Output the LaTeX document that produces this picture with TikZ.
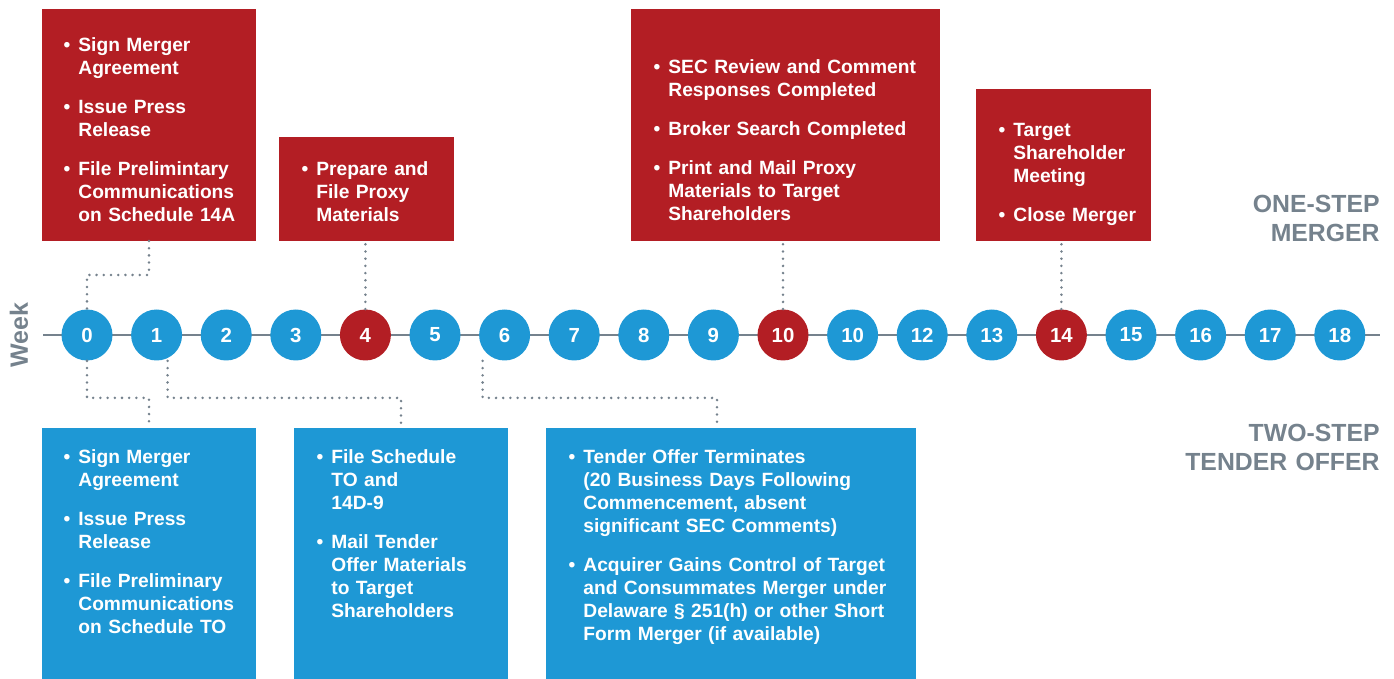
\documentclass[tikz,border=0pt]{standalone}
\usepackage{fontspec}
\setmainfont{Liberation Sans}
\usetikzlibrary{calc}
\definecolor{mred}{HTML}{B31E24}
\definecolor{mblue}{HTML}{1E98D5}
\definecolor{mgray}{HTML}{75828D}
\newcommand{\itm}{\leavevmode\llap{\textbullet\hspace{4pt}}}

\begin{document}
\begin{tikzpicture}[x=0.5pt,y=-0.5pt,
   wk/.style={circle,fill=mblue,minimum size=25.5pt,inner sep=0pt,text=white,
     font=\fontsize{10.2}{12}\selectfont\bfseries},
   mbox/.style={anchor=north west,inner sep=0pt,outer sep=0pt},
   txt/.style={anchor=base west,inner sep=0pt,text width=170pt,align=left,text=white,
     font=\fontsize{9.6}{11.5}\selectfont\bfseries},
   side/.style={anchor=base east,inner sep=0pt,text width=200pt,align=right,text=mgray,
     font=\fontsize{12.4}{14.5}\selectfont\bfseries},
   dots/.style={mgray,line width=1.4pt,line cap=round,dash pattern=on 0pt off 3.6pt}]
\useasboundingbox (0,0) rectangle (1394,679);

\coordinate (tl0) at (43,335);
\coordinate (tl1) at (1380,335);
\draw[mgray,line width=1.4pt] (tl0) -- (tl1);
\node[rotate=90,text=mgray,font=\fontsize{12.5}{14}\selectfont\bfseries] (week) at (19,335) {Week};

\foreach \l [count=\i from 0] in {0,1,2,3,4,5,6,7,8,9,10,10,12,13,14,15,16,17,18} {
  \ifnum\i=4 \def\col{mred}\else\ifnum\i=10 \def\col{mred}\else
    \ifnum\i=14 \def\col{mred}\else\def\col{mblue}\fi\fi\fi
  \node[wk,fill=\col] (c\i) at ({87+69.6*\i},335) {\l};
}

\node[mbox,fill=mred,minimum width=107pt,minimum height=116pt] (mA) at (42,9) {};
\node[mbox,fill=mred,minimum width=87.5pt,minimum height=52pt] (mB) at (279,137) {};
\node[mbox,fill=mred,minimum width=154.5pt,minimum height=116pt] (mC) at (631,9) {};
\node[mbox,fill=mred,minimum width=87.5pt,minimum height=76pt] (mD) at (976,89) {};
\node[mbox,fill=mblue,minimum width=107pt,minimum height=125.5pt] (mE) at (42,428) {};
\node[mbox,fill=mblue,minimum width=107pt,minimum height=125.5pt] (mF) at (294,428) {};
\node[mbox,fill=mblue,minimum width=185pt,minimum height=125.5pt] (mG) at (546,428) {};

\node[txt] (tA) at (78,52) {\itm Sign Merger\\Agreement\\[8pt]\itm Issue Press\\Release\\[8pt]%
  \itm File Prelimintary\\Communications\\on Schedule 14A};
\node[txt] (tB) at (316,176) {\itm Prepare and\\File Proxy\\Materials};
\node[txt] (tC) at (668,74) {\itm SEC Review and Comment\\Responses Completed\\[8pt]%
  \itm Broker Search Completed\\[8pt]\itm Print and Mail Proxy\\Materials to Target\\Shareholders};
\node[txt] (tD) at (1013,137) {\itm Target\\Shareholder\\Meeting\\[8pt]\itm Close Merger};
\node[txt] (tE) at (78,464) {\itm Sign Merger\\Agreement\\[8pt]\itm Issue Press\\Release\\[8pt]%
  \itm File Preliminary\\Communications\\on Schedule TO};
\node[txt] (tF) at (331,464) {\itm File Schedule\\TO and\\14D-9\\[8pt]%
  \itm Mail Tender\\Offer Materials\\to Target\\Shareholders};
\node[txt] (tG) at (583,464) {\itm Tender Offer Terminates\\(20 Business Days Following\\%
  Commencement, absent\\significant SEC Comments)\\[8pt]%
  \itm Acquirer Gains Control of Target\\and Consummates Merger under\\%
  Delaware § 251(h) or other Short\\Form Merger (if available)};

\node[side] (one) at (1380,213) {ONE-STEP\\MERGER};
\node[side] (two) at (1380,442) {TWO-STEP\\TENDER OFFER};

\draw[dots] (mA.south) -- ++(0,34) -| (c0.north);
\draw[dots] (c4.north) -- (c4.north |- mB.south);
\draw[dots] (c10.north) -- (c10.north |- mC.south);
\draw[dots] (c14.north) -- (c14.north |- mD.south);
\draw[dots] (c0.south) -- ++(0,37) -| (mE.north);
\draw[dots] ([xshift=5.5pt]c1.south) -- ++(0,37) -| (mF.north);
\draw[dots] ([xshift=-11pt]c6.south) -- ++(0,37) -| ([xshift=-7pt]mG.north);
\end{tikzpicture}
\end{document}
